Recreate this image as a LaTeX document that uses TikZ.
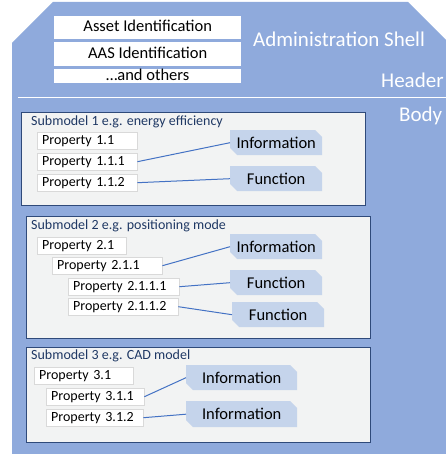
\documentclass[tikz,border=0pt]{standalone}
\usepackage{fontspec}
\setmainfont{Carlito}
\definecolor{shellblue}{HTML}{8FAADC}
\definecolor{subfill}{HTML}{F2F3F3}
\definecolor{subborder}{HTML}{2F4A7A}
\definecolor{titleblue}{HTML}{1F3864}
\definecolor{tagfill}{HTML}{C5D4EB}
\definecolor{linkblue}{HTML}{4472C4}
\definecolor{propborder}{HTML}{D9D9D9}
\begin{document}
\begin{tikzpicture}[x=1pt,y=-1pt,
  hdrbox/.style={fill=white, anchor=north west, inner sep=0pt, minimum width=187pt,
    text height=11pt, text depth=3pt, font=\fontsize{16.5}{18}\selectfont},
  shelltext/.style={text=white, anchor=base west, inner sep=0pt, font=\fontsize{21}{24}\selectfont},
  subbox/.style={fill=subfill, draw=subborder, line width=1.1pt, anchor=north west, inner sep=0pt},
  subtitle/.style={text=titleblue, anchor=west, inner sep=0pt, font=\fontsize{14}{16}\selectfont},
  prop/.style={fill=white, draw=propborder, line width=0.4pt, anchor=north west, inner xsep=5pt,
    inner ysep=0pt, minimum height=17pt, text width=#1, align=left, font=\fontsize{14}{16}\selectfont},
  tag/.style={anchor=north west, inner sep=0pt, font=\fontsize{16.5}{18}\selectfont,
    path picture={\fill[tagfill] (path picture bounding box.north west)
      -- ([xshift=-7pt]path picture bounding box.north east)
      -- ([yshift=-7pt]path picture bounding box.north east)
      -- (path picture bounding box.south east)
      -- ([xshift=7pt]path picture bounding box.south west)
      -- ([yshift=7pt]path picture bounding box.south west) -- cycle;}},
  link/.style={draw=linkblue, line width=1pt}]
\useasboundingbox (0,0) rectangle (445,454);
% shell
\fill[shellblue] (53,2) -- (408,2) -- (452,46) -- (452,456) -- (12,456) -- (12,43) -- cycle;
\coordinate (sepL) at (18,98);
\coordinate (sepR) at (446,98);
\draw[white, line width=1pt] (sepL) -- (sepR);
% header
\node[hdrbox, minimum height=23pt] (h1) at (54,16) {Asset Identification};
\node[hdrbox, minimum height=24pt] (h2) at (54,42) {AAS Identification};
\node[hdrbox, minimum height=14pt] (h3) at (54,69) {…and others};
\node[shelltext] (shell) at (253,47) {Administration Shell};
\node[shelltext] (hdr) at (381,88) {Header};
\node[shelltext] (body) at (399,122) {Body};
% submodel 1
\node[subbox, minimum width=344pt, minimum height=93pt] (s1) at (21,112) {};
\node[subtitle] (s1t) at (31,122) {Submodel 1 e.g. energy efficiency};
\node[prop=90pt] (p11) at (37,132) {Property 1.1};
\node[prop=90pt] (p111) at (37,153) {Property 1.1.1};
\node[prop=90pt] (p112) at (37,174) {Property 1.1.2};
\node[tag, minimum width=92pt, minimum height=25pt] (t1i) at (230,130) {Information};
\node[tag, minimum width=92pt, minimum height=25pt] (t1f) at (230,166) {Function};
\draw[link] (p111.east) -- (t1i.west);
\draw[link] (p112.east) -- (t1f.west);
% submodel 2
\node[subbox, minimum width=344pt, minimum height=122pt] (s2) at (26,216) {};
\node[subtitle] (s2t) at (31,226) {Submodel 2 e.g. positioning mode};
\node[prop=79pt] (p21) at (37,237) {Property 2.1};
\node[prop=100pt] (p211) at (52,257) {Property 2.1.1};
\node[prop=101pt] (p2111) at (68,278) {Property 2.1.1.1};
\node[prop=100pt] (p2112) at (68,298) {Property 2.1.1.2};
\node[tag, minimum width=92pt, minimum height=25pt] (t2i) at (230,234) {Information};
\node[tag, minimum width=92pt, minimum height=25pt] (t2f1) at (230,270) {Function};
\node[tag, minimum width=92pt, minimum height=25pt] (t2f2) at (232,302) {Function};
\draw[link] (p211.east) -- (t2i.west);
\draw[link] (p2111.east) -- (t2f1.west);
\draw[link] (p2112.east) -- (t2f2.west);
% submodel 3
\node[subbox, minimum width=344pt, minimum height=95pt] (s3) at (26,347) {};
\node[subtitle] (s3t) at (31,356) {Submodel 3 e.g. CAD model};
\node[prop=89pt] (p31) at (34,367) {Property 3.1};
\node[prop=88pt] (p311) at (46,388) {Property 3.1.1};
\node[prop=87pt] (p312) at (46,409) {Property 3.1.2};
\node[tag, minimum width=111pt, minimum height=25pt] (t3i1) at (186,365) {Information};
\node[tag, minimum width=111pt, minimum height=26pt] (t3i2) at (186,401) {Information};
\draw[link] (p311.east) -- (t3i1.west);
\draw[link] (p312.east) -- (t3i2.west);
\end{tikzpicture}
\end{document}
